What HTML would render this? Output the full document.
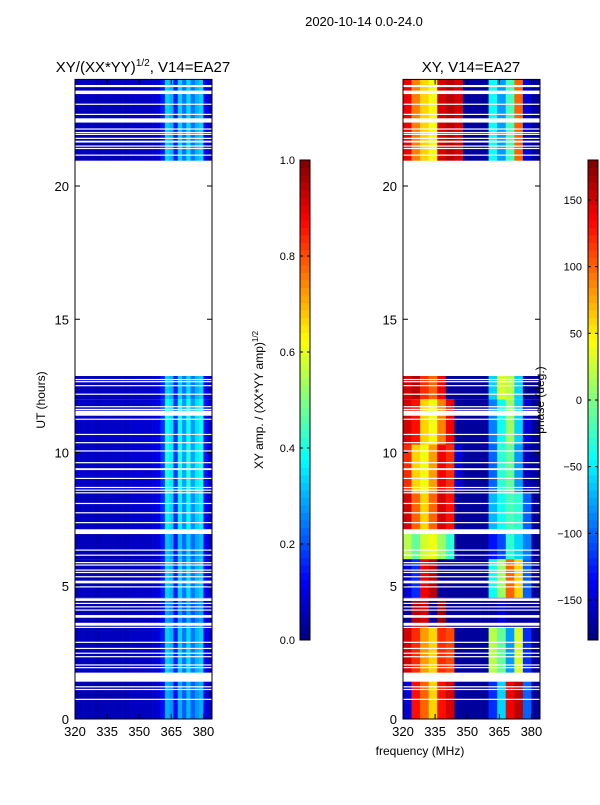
<!DOCTYPE html>
<html><head><meta charset="utf-8"><style>
body{margin:0;background:#fff;font-family:"Liberation Sans",sans-serif}
svg text{font-family:"Liberation Sans",sans-serif}
</style></head><body>
<svg id="s" width="600" height="800" xmlns="http://www.w3.org/2000/svg">
<text x="364" y="26" font-size="13" text-anchor="middle">2020-10-14 0.0-24.0</text>
<text x="143" y="72" font-size="15" text-anchor="middle">XY/(XX*YY)<tspan font-size="10" dy="-6">1/2</tspan><tspan dy="6">, V14=EA27</tspan></text>
<text x="471" y="72" font-size="15" text-anchor="middle">XY, V14=EA27</text>
<text x="45" y="400" font-size="12" text-anchor="middle" transform="rotate(-90 45 400)">UT (hours)</text>
<text x="420" y="755" font-size="12" text-anchor="middle">frequency (MHz)</text>
<text x="263" y="400" font-size="12" text-anchor="middle" transform="rotate(-90 263 400)">XY amp. / (XX*YY amp)<tspan font-size="8" dy="-5">1/2</tspan></text>
<g id="g"></g>
<text x="544" y="400" font-size="12" text-anchor="middle" transform="rotate(-90 544 400)">phase (deg.)</text>
</svg>
<script>
// amplitude per 2-MHz channel, 320..382
const ampChannels=[320,322,324,326,328,330,332,334,336,338,340,342,344,346,348,350,352,354,356,358,360,362,364,366,368,370,372,374,376,378,380,382];
const ampValues=[0.06,0.06,0.06,0.06,0.06,0.05,0.06,0.06,0.06,0.06,0.06,0.06,0.06,0.07,0.07,0.07,0.07,0.07,0.08,0.09,0.15,0.33,0.3,0.15,0.33,0.24,0.34,0.24,0.3,0.33,0.12,0.07];
// phase per 4-MHz band, 320..380
const phaseBands=[320,324,328,332,336,340,344,348,352,356,360,364,368,372,376,380];
const regions=[[0,1.45],[1.45,3.45],[3.45,4.55],[4.55,6.0],[6.0,7.0],[7.0,8.5],[8.5,10.3],[10.3,12.0],[12.0,12.87],[20.95,24]];
const regionGain=[0.9,1.0,0.85,1.0,0.95,1.1,1.2,1.15,1.0,1.0];
const regionPhase=[
[-150,130,100,60,130,150,-170,-170,-170,-170,-120,-60,140,160,-100,-170],
[150,120,80,60,120,110,-170,-170,-170,-170,20,-10,-80,30,-120,-170],
[-170,160,150,-170,170,-170,-170,-170,-170,-170,-170,-150,-170,-170,-170,-170],
[-150,-120,140,160,-170,-170,-170,-170,-170,-170,-40,10,100,60,-100,-170],
[20,-10,30,40,10,-30,-170,-170,-170,-170,-130,-110,-30,-60,-90,-170],
[150,100,60,100,150,130,-170,-170,-170,-170,-70,-40,-20,-30,-100,-170],
[120,60,40,80,140,120,-150,-170,-170,-170,-100,-30,-10,-80,-160,-170],
[150,130,60,40,90,140,-170,-170,-170,-170,-90,-40,10,-60,-150,-170],
[150,160,120,100,140,-170,-170,-170,-170,-170,-60,30,20,-60,-170,-170],
[140,90,60,40,150,160,150,-170,-170,-170,-40,-80,-20,100,-150,-170]];
const gaps=[[23.71,23.79],[23.45,23.58],[23.05,23.09],[22.67,22.71],[22.38,22.54],[22.12,22.16],[21.99,22.03],[21.92,21.96],[21.77,21.81],[21.63,21.7],[21.48,21.52],[21.39,21.43],[21.14,21.18],
[12.72,12.76],[12.64,12.68],[12.49,12.53],[12.17,12.21],[11.7,11.74],[11.6,11.64],[11.38,11.57],[11.23,11.27],[10.66,10.7],[10.35,10.39],[10.04,10.08],[9.6,9.64],[9.34,9.41],[9.01,9.05],[8.67,8.71],[8.57,8.61],[8.47,8.51],[8.07,8.11],[7.72,7.76],[7.35,7.39],[6.94,7.12],[6.32,6.36],[6.13,6.17],[5.85,5.89],[5.76,5.8],[5.57,5.61],[5.48,5.52],[5.32,5.36],[5.09,5.19],[4.94,4.98],[4.43,4.53],[4.32,4.36],[4.19,4.23],[4.07,4.11],[3.8,3.9],[3.5,3.61],[3.42,3.46],[2.86,2.9],[2.63,2.67],[2.45,2.49],[2.32,2.36],[2.01,2.05],[1.91,1.95],[1.4,1.74],[1.19,1.23],[1.09,1.13],[0.72,0.76]];
const yTicks=[0,5,10,15,20];
const xTicks=[320,335,350,365,380];
const ampCbTicks=[0.0,0.2,0.4,0.6,0.8,1.0];
const phCbTicks=[-150,-100,-50,0,50,100,150];

const NS='http://www.w3.org/2000/svg';
const g=document.getElementById('g');
const Y0=719,PXH=26.65;
const yS=t=>Y0-t*PXH;
const xS=(x0,f)=>x0+(f-320)*137/64;
function jet(v){v=Math.max(0,Math.min(1,v));
 const r=Math.max(0,Math.min(1,1.5-Math.abs(4*v-3))),gg=Math.max(0,Math.min(1,1.5-Math.abs(4*v-2))),b=Math.max(0,Math.min(1,1.5-Math.abs(4*v-1)));
 return `rgb(${Math.round(r*255)},${Math.round(gg*255)},${Math.round(b*255)})`;}
function el(t,a,p){const e=document.createElementNS(NS,t);for(const k in a)e.setAttribute(k,a[k]);(p||g).appendChild(e);return e;}
function txt(x,y,s,anchor){const e=el('text',{x:x,y:y,'font-size':13,'text-anchor':anchor||'middle'});e.textContent=s;return e;}

function panel(x0,kind){
 const pg=el('g',{});
 
 
 regions.forEach((r,ri)=>{
  const y1=yS(r[1]),y2=yS(r[0]);
  if(kind==='amp'){
   ampChannels.forEach((c,ci)=>{
    const c2=ci+1<ampChannels.length?ampChannels[ci+1]:384;
    const cell=el('rect',{x:xS(x0,c),y:y1,width:xS(x0,c2)-xS(x0,c)+0.3,height:y2-y1,fill:jet(ampValues[ci]*regionGain[ri])},pg);
    
    
   });
  } else {
   phaseBands.forEach((c,ci)=>{
    const c2=ci+1<phaseBands.length?phaseBands[ci+1]:384;
    const cell=el('rect',{x:xS(x0,c),y:y1,width:xS(x0,c2)-xS(x0,c)+0.3,height:y2-y1,fill:jet((regionPhase[ri][ci]+180)/360)},pg);
    
    
   });
  }
 });
 gaps.forEach(gp=>{const w=el('rect',{x:x0,y:yS(gp[1]),width:137,height:Math.max(1.2,yS(gp[0])-yS(gp[1])),fill:'#fff'},pg);
  
  });
 const f=el('rect',{x:x0,y:yS(24),width:137,height:yS(0)-yS(24),fill:'none',stroke:'#000'});
 
 
 yTicks.forEach(t=>{const y=yS(t);el('line',{x1:x0,x2:x0+5,y1:y,y2:y,stroke:'#000'});el('line',{x1:x0+132,x2:x0+137,y1:y,y2:y,stroke:'#000'});
  const l=txt(x0-6,y+5,String(t),'end');});
 xTicks.forEach(t=>{const x=xS(x0,t);el('line',{x1:x,x2:x,y1:yS(0),y2:yS(0)-5,stroke:'#000'});el('line',{x1:x,x2:x,y1:yS(24),y2:yS(24)+5,stroke:'#000'});
  const l=txt(x,736,String(t));});
}
panel(75,'amp');panel(403,'phase');

function colorbar(x0,lo,hi,ticks,name){
 const cg=el('g',{});
 
 
 const N=64;for(let i=0;i<N;i++){el('rect',{x:x0,y:640-(i+1)*480/N,width:10,height:480/N+0.5,fill:jet((i+0.5)/N)},cg);}
 el('rect',{x:x0,y:160,width:10,height:480,fill:'none',stroke:'#000'},cg);
 ticks.forEach(t=>{const y=640-(t-lo)/(hi-lo)*480;el('line',{x1:x0,x2:x0+3,y1:y,y2:y,stroke:'#000'},cg);el('line',{x1:x0+7,x2:x0+10,y1:y,y2:y,stroke:'#000'},cg);
  const l=el('text',{x:x0-5,y:y+4,'font-size':11,'text-anchor':'end'},cg);l.textContent=name==='amp-colorbar'?t.toFixed(1):(t<0?'\u2212'+(-t):String(t));
  if(name==='phase-colorbar'){l.setAttribute('x',x0-6);}
  });
}
colorbar(300,0,1,ampCbTicks,'amp-colorbar');
colorbar(588,-180,180,phCbTicks,'phase-colorbar');
</script>
</body></html>
